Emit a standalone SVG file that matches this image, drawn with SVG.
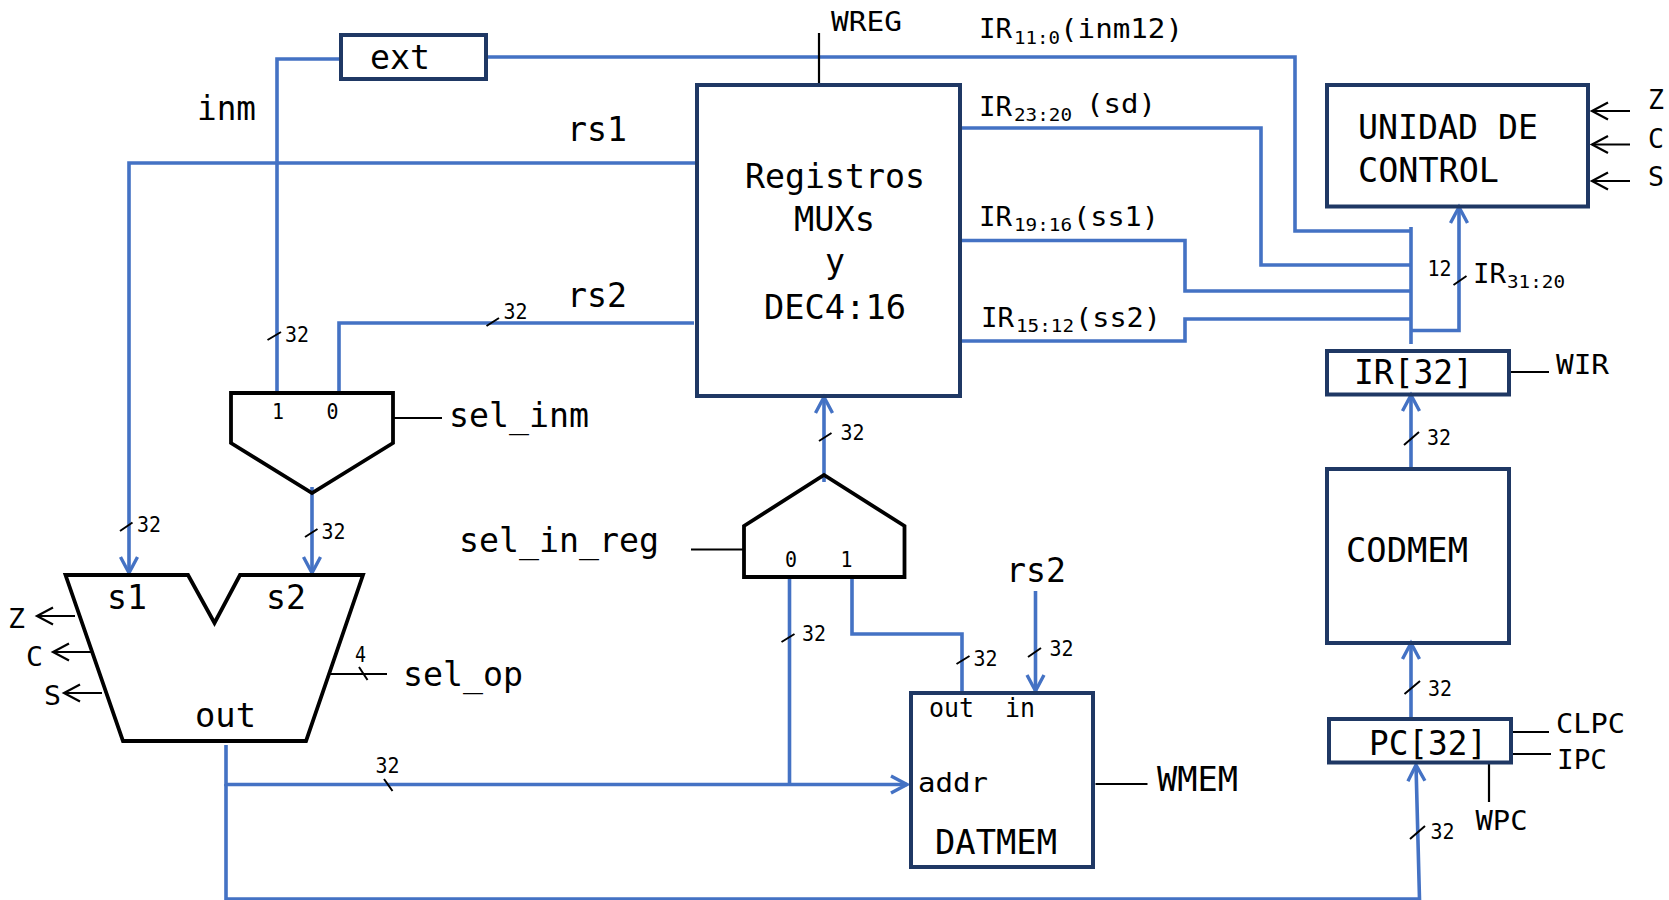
<svg xmlns="http://www.w3.org/2000/svg" width="1669" height="900" viewBox="0 0 1669 900">
<style>
text{font-family:"DejaVu Sans Mono","Liberation Mono",monospace;fill:#000;}
.b{font-size:33px}.m{font-size:27px}.s{font-size:21px}.u{font-size:17px}
.box{fill:none;stroke:#1f3864;stroke-width:4}
.alu{fill:none;stroke:#000;stroke-width:3.8;stroke-linejoin:miter}
.w{fill:none;stroke:#4472c4;stroke-width:3.6}
.k{fill:none;stroke:#000;stroke-width:2.2}
.t{fill:none;stroke:#000;stroke-width:2}
</style>
<defs>
<marker id="ab" markerUnits="userSpaceOnUse" markerWidth="24" markerHeight="24" refX="18" refY="12" orient="auto"><path d="M2 3.5L18 12L2 20.5" fill="none" stroke="#4472c4" stroke-width="3.4"/></marker>
<marker id="ak" markerUnits="userSpaceOnUse" markerWidth="24" markerHeight="24" refX="19" refY="12" orient="auto"><path d="M3 3.5L19 12L3 20.5" fill="none" stroke="#000" stroke-width="2.2"/></marker>
</defs>
<g id="connectors">
<path class="w" d="M341 59H277V393"/>
<path class="w" d="M486 57H1295V231H1411"/>
<path class="w" d="M1411 227V344"/>
<path class="w" d="M960 128H1261V265H1411"/>
<path class="w" d="M960 240.500H1185V291H1411"/>
<path class="w" d="M960 341H1185V319H1411"/>
<path class="w" marker-end="url(#ab)" d="M1411 330.500H1459V207"/>
<path class="w" marker-end="url(#ab)" d="M697 163H129V573"/>
<path class="w" d="M694 323H339V393"/>
<path class="w" marker-end="url(#ab)" d="M312 487V573"/>
<path class="w" marker-end="url(#ab)" d="M226 745V784.500H907"/>
<path class="w" marker-end="url(#ab)" d="M226 784V899H1419.500L1416 765"/>
<path class="w" d="M789.500 784V577"/>
<path class="w" marker-end="url(#ab)" d="M824 482V397"/>
<path class="w" d="M852 577V634H962V693"/>
<path class="w" marker-end="url(#ab)" d="M1035.500 591V691"/>
<path class="w" marker-end="url(#ab)" d="M1411 469V395"/>
<path class="w" marker-end="url(#ab)" d="M1411 719V643"/>
<path class="k" d="M819 33V85"/>
<path class="k" d="M393 418H442"/>
<path class="k" d="M691 549.500H744"/>
<path class="k" marker-end="url(#ak)" d="M75 616H37"/>
<path class="k" marker-end="url(#ak)" d="M91.500 652H53"/>
<path class="k" marker-end="url(#ak)" d="M102 693H64"/>
<path class="k" d="M329.500 674H387"/>
<path class="k" d="M1095.500 784H1147.500"/>
<path class="k" d="M1509 372H1549"/>
<path class="k" marker-end="url(#ak)" d="M1630 111H1592"/>
<path class="k" marker-end="url(#ak)" d="M1630 144.500H1592"/>
<path class="k" marker-end="url(#ak)" d="M1630 181H1592"/>
<path class="k" d="M1510 732H1549"/>
<path class="k" d="M1513 754H1551"/>
<path class="k" d="M1489 763V802"/>
<path class="t" d="M267.500 340L281 332M486.500 326L499 318M120 531L132.500 522.500M305 537L317.500 529M359 667L367.500 680M384 779L392.500 791M819 441L831.500 433M1453.500 285L1466.500 276M1404 445L1419 432M781.500 642L794.500 634M956.500 664L969.500 656M1028 657L1041 648M1404.500 694L1420 681M1410 839L1425 826"/>
</g>
<g id="wire-labels">
<text class="b" x="197" y="120" textLength="59" lengthAdjust="spacingAndGlyphs">inm</text>
<text class="b" x="567" y="141" textLength="60" lengthAdjust="spacingAndGlyphs">rs1</text>
<text class="b" x="567" y="306.500" textLength="60" lengthAdjust="spacingAndGlyphs">rs2</text>
<text class="s" x="285" y="341.500" textLength="24" lengthAdjust="spacingAndGlyphs">32</text>
<text class="s" x="503.500" y="319" textLength="24" lengthAdjust="spacingAndGlyphs">32</text>
<text class="s" x="137" y="532" textLength="24" lengthAdjust="spacingAndGlyphs">32</text>
<text class="s" x="321.500" y="539" textLength="24" lengthAdjust="spacingAndGlyphs">32</text>
<text class="s" x="355" y="662" textLength="11" lengthAdjust="spacingAndGlyphs">4</text>
<text class="s" x="375.500" y="772.500" textLength="24" lengthAdjust="spacingAndGlyphs">32</text>
<text class="s" x="840.500" y="440" textLength="24" lengthAdjust="spacingAndGlyphs">32</text>
<text class="s" x="802" y="641" textLength="24" lengthAdjust="spacingAndGlyphs">32</text>
<text class="s" x="973.500" y="666" textLength="24" lengthAdjust="spacingAndGlyphs">32</text>
<text class="s" x="1049.500" y="656" textLength="24" lengthAdjust="spacingAndGlyphs">32</text>
<text class="s" x="1427" y="445" textLength="24" lengthAdjust="spacingAndGlyphs">32</text>
<text class="s" x="1428" y="696" textLength="24" lengthAdjust="spacingAndGlyphs">32</text>
<text class="s" x="1430.500" y="839" textLength="24" lengthAdjust="spacingAndGlyphs">32</text>
<text class="s" x="1427.500" y="276" textLength="24" lengthAdjust="spacingAndGlyphs">12</text>
<text class="b" x="449" y="427" textLength="140" lengthAdjust="spacingAndGlyphs">sel_inm</text>
<text class="b" x="459" y="552" textLength="200" lengthAdjust="spacingAndGlyphs">sel_in_reg</text>
<text class="b" x="403" y="686" textLength="120" lengthAdjust="spacingAndGlyphs">sel_op</text>
<text class="b" x="1006" y="582" textLength="60" lengthAdjust="spacingAndGlyphs">rs2</text>
<text class="b" x="1157" y="790.500" textLength="81" lengthAdjust="spacingAndGlyphs">WMEM</text>
<text class="m" x="831" y="30.500" textLength="71" lengthAdjust="spacingAndGlyphs">WREG</text>
<text class="m" x="1556" y="374" textLength="53" lengthAdjust="spacingAndGlyphs">WIR</text>
<text class="m" x="1556" y="732.500" textLength="69" lengthAdjust="spacingAndGlyphs">CLPC</text>
<text class="m" x="1557" y="769" textLength="50" lengthAdjust="spacingAndGlyphs">IPC</text>
<text class="m" x="1475.500" y="830" textLength="52" lengthAdjust="spacingAndGlyphs">WPC</text>
<text class="m" x="8" y="628" textLength="17" lengthAdjust="spacingAndGlyphs">Z</text>
<text class="m" x="26" y="666" textLength="17" lengthAdjust="spacingAndGlyphs">C</text>
<text class="m" x="44" y="705" textLength="17" lengthAdjust="spacingAndGlyphs">S</text>
<text class="m" x="1648" y="109" textLength="16" lengthAdjust="spacingAndGlyphs">Z</text>
<text class="m" x="1648" y="147.500" textLength="16" lengthAdjust="spacingAndGlyphs">C</text>
<text class="m" x="1648" y="186" textLength="16" lengthAdjust="spacingAndGlyphs">S</text>
<text class="m" x="979" y="37.500" textLength="33" lengthAdjust="spacingAndGlyphs">IR</text>
<text class="u" x="1014" y="43.500" textLength="46" lengthAdjust="spacingAndGlyphs">11:0</text>
<text class="m" x="1060" y="37.500" textLength="123" lengthAdjust="spacingAndGlyphs">(inm12)</text>
<text class="m" x="979" y="115.500" textLength="33" lengthAdjust="spacingAndGlyphs">IR</text>
<text class="u" x="1014" y="120.500" textLength="58" lengthAdjust="spacingAndGlyphs">23:20</text>
<text class="m" x="1086" y="113" textLength="70" lengthAdjust="spacingAndGlyphs">(sd)</text>
<text class="m" x="979" y="225.500" textLength="33" lengthAdjust="spacingAndGlyphs">IR</text>
<text class="u" x="1014" y="230.500" textLength="58" lengthAdjust="spacingAndGlyphs">19:16</text>
<text class="m" x="1073" y="225.500" textLength="86" lengthAdjust="spacingAndGlyphs">(ss1)</text>
<text class="m" x="981" y="326.500" textLength="33" lengthAdjust="spacingAndGlyphs">IR</text>
<text class="u" x="1016" y="332" textLength="58" lengthAdjust="spacingAndGlyphs">15:12</text>
<text class="m" x="1075" y="326.500" textLength="86" lengthAdjust="spacingAndGlyphs">(ss2)</text>
<text class="m" x="1473" y="282.500" textLength="33" lengthAdjust="spacingAndGlyphs">IR</text>
<text class="u" x="1507" y="287.500" textLength="58" lengthAdjust="spacingAndGlyphs">31:20</text>
</g>
<g id="ext"><rect class="box" x="341" y="35" width="145" height="44"/>
<text class="b" x="370" y="68.500" textLength="60" lengthAdjust="spacingAndGlyphs">ext</text></g>
<g id="registros"><rect class="box" x="697" y="85" width="263" height="311"/>
<text class="b" x="745" y="188" textLength="180" lengthAdjust="spacingAndGlyphs">Registros</text>
<text class="b" x="794" y="231" textLength="81" lengthAdjust="spacingAndGlyphs">MUXs</text>
<text class="b" x="825" y="273" textLength="20" lengthAdjust="spacingAndGlyphs">y</text>
<text class="b" x="764" y="319" textLength="142" lengthAdjust="spacingAndGlyphs">DEC4:16</text></g>
<g id="mux-inm"><path class="alu" d="M231 393H393V443L312 493L231 443Z"/>
<text class="s" x="272" y="419" textLength="12" lengthAdjust="spacingAndGlyphs">1</text>
<text class="s" x="326.500" y="419" textLength="12" lengthAdjust="spacingAndGlyphs">0</text></g>
<g id="alu"><path class="alu" d="M65.500 575H188L214.500 623L240 575H363L306 741H123Z"/>
<text class="b" x="107" y="609" textLength="40" lengthAdjust="spacingAndGlyphs">s1</text>
<text class="b" x="266" y="609" textLength="40" lengthAdjust="spacingAndGlyphs">s2</text>
<text class="b" x="195" y="726.500" textLength="61" lengthAdjust="spacingAndGlyphs">out</text></g>
<g id="mux-in-reg"><path class="alu" d="M744 577V526L824 475L904.500 526V577Z"/>
<text class="s" x="785" y="567" textLength="12" lengthAdjust="spacingAndGlyphs">0</text>
<text class="s" x="840.500" y="567" textLength="12" lengthAdjust="spacingAndGlyphs">1</text></g>
<g id="datmem"><rect class="box" x="911" y="693" width="182" height="174"/>
<text class="m" x="929" y="716.500" textLength="45" lengthAdjust="spacingAndGlyphs">out</text>
<text class="m" x="1005" y="716.500" textLength="30" lengthAdjust="spacingAndGlyphs">in</text>
<text class="m" x="918" y="791.500" textLength="70" lengthAdjust="spacingAndGlyphs">addr</text>
<text class="b" x="935" y="854" textLength="122" lengthAdjust="spacingAndGlyphs">DATMEM</text></g>
<g id="control"><rect class="box" x="1327" y="85" width="261" height="121.500"/>
<text class="b" x="1358" y="139" textLength="180" lengthAdjust="spacingAndGlyphs">UNIDAD DE</text>
<text class="b" x="1358" y="182" textLength="141" lengthAdjust="spacingAndGlyphs">CONTROL</text></g>
<g id="ir"><rect class="box" x="1327" y="351" width="182" height="43.500"/>
<text class="b" x="1354" y="384" textLength="119" lengthAdjust="spacingAndGlyphs">IR[32]</text></g>
<g id="codmem"><rect class="box" x="1327" y="469" width="182" height="174"/>
<text class="b" x="1346" y="562" textLength="122" lengthAdjust="spacingAndGlyphs">CODMEM</text></g>
<g id="pc"><rect class="box" x="1329" y="719" width="182" height="43.500"/>
<text class="b" x="1369" y="755" textLength="118" lengthAdjust="spacingAndGlyphs">PC[32]</text></g>
</svg>
